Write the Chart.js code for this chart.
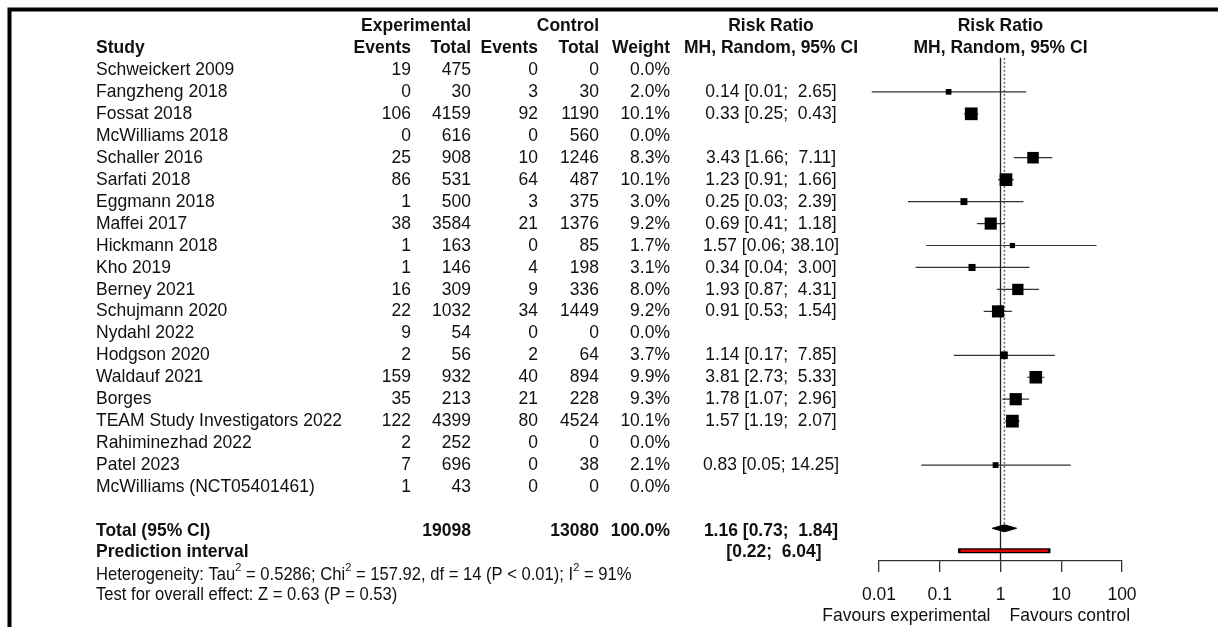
<!DOCTYPE html>
<html>
<head>
<meta charset="utf-8">
<script src="https://cdn.jsdelivr.net/npm/chart.js@4.4.0/dist/chart.umd.min.js"></script>
<style>
  body { margin: 0; background: #fff; }
  #wrap { width: 1218px; height: 627px; }
</style>
</head>
<body>
<div id="wrap"><canvas id="forest" width="1218" height="627"></canvas></div>
<script>
const studies = ['Schweickert 2009', 'Fangzheng 2018', 'Fossat 2018', 'McWilliams 2018', 'Schaller 2016',
  'Sarfati 2018', 'Eggmann 2018', 'Maffei 2017', 'Hickmann 2018', 'Kho 2019', 'Berney 2021',
  'Schujmann 2020', 'Nydahl 2022', 'Hodgson 2020', 'Waldauf 2021', 'Borges',
  'TEAM Study Investigators 2022', 'Rahiminezhad 2022', 'Patel 2023', 'McWilliams (NCT05401461)'];
const expEvents = [19, 0, 106, 0, 25, 86, 1, 38, 1, 1, 16, 22, 9, 2, 159, 35, 122, 2, 7, 1];
const expTotal = [475, 30, 4159, 616, 908, 531, 500, 3584, 163, 146, 309, 1032, 54, 56, 932, 213, 4399, 252, 696, 43];
const ctrlEvents = [0, 3, 92, 0, 10, 64, 3, 21, 0, 4, 9, 34, 0, 2, 40, 21, 80, 0, 0, 0];
const ctrlTotal = [0, 30, 1190, 560, 1246, 487, 375, 1376, 85, 198, 336, 1449, 0, 64, 894, 228, 4524, 0, 38, 0];
const weights = [0.0, 2.0, 10.1, 0.0, 8.3, 10.1, 3.0, 9.2, 1.7, 3.1, 8.0, 9.2, 0.0, 3.7, 9.9, 9.3, 10.1, 0.0, 2.1, 0.0];
const riskRatio = [null, 0.14, 0.33, null, 3.43, 1.23, 0.25, 0.69, 1.57, 0.34, 1.93, 0.91, null, 1.14, 3.81, 1.78, 1.57, null, 0.83, null];
const ciLower = [null, 0.0076, 0.25, null, 1.66, 0.91, 0.03, 0.41, 0.06, 0.04, 0.87, 0.53, null, 0.17, 2.73, 1.07, 1.19, null, 0.05, null];
const ciUpper = [null, 2.65, 0.43, null, 7.11, 1.66, 2.39, 1.18, 38.10, 3.00, 4.31, 1.54, null, 7.85, 5.33, 2.96, 2.07, null, 14.25, null];

const totalExp = 19098;
const totalCtrl = 13080;
const pooled = [1.16, 0.73, 1.84];     // estimate, lower, upper
const predInterval = [0.22, 6.04];
const tickValues = [0.01, 0.1, 1, 10, 100];
const tickLabels = ['0.01', '0.1', '1', '10', '100'];

// row layout (y scale units = rows)
const TOTAL_ROW = 21, PRED_ROW = 22, AXIS_ROW = 22.37, TOP_ROW = -2.5;
const STRETCH = 1.06;
const FONT = '"Liberation Sans", Arial, sans-serif';

function fmtCI(est, lo, hi) {
  const hiTxt = hi.toFixed(2);
  return est.toFixed(2) + ' [' + lo.toFixed(2) + '; ' + (hiTxt.length < 5 ? ' ' : '') + hiTxt + ']';
}

function put(ctx, str, px, py, align, size, bold) {
  ctx.save();
  ctx.font = (bold ? 'bold ' : '') + size + 'px ' + FONT;
  ctx.textAlign = align;
  ctx.textBaseline = 'middle';
  ctx.fillStyle = '#111';
  ctx.translate(px, py);
  ctx.scale(1, STRETCH);
  ctx.fillText(str, 0, 0);
  ctx.restore();
}

// line pieces for the confidence intervals, split by gaps
const ciData = [];
studies.forEach((s, i) => {
  if (riskRatio[i] == null) return;
  ciData.push({ x: ciLower[i], y: i }, { x: ciUpper[i], y: i }, { x: NaN, y: NaN });
});
const squareData = [], squareSize = [];
studies.forEach((s, i) => {
  if (riskRatio[i] == null) return;
  squareData.push({ x: riskRatio[i], y: i });
  squareSize.push(4 * Math.sqrt(weights[i]) / Math.SQRT2);
});
const dRow = TOTAL_ROW - 0.12;
const diamondData = [
  { x: pooled[1], y: dRow }, { x: pooled[0], y: dRow - 0.16 },
  { x: pooled[2], y: dRow }, { x: pooled[0], y: dRow + 0.16 }, { x: pooled[1], y: dRow }
];

const tablePlugin = {
  id: 'forestTable',
  beforeDraw(chart) {
    const ctx = chart.ctx;
    ctx.save();
    ctx.fillStyle = '#fff';
    ctx.fillRect(0, 0, chart.width, chart.height);
    ctx.strokeStyle = '#000';
    ctx.lineWidth = 4;
    ctx.beginPath();
    ctx.moveTo(9.5, chart.height);
    ctx.lineTo(9.5, 9.5);
    ctx.lineTo(chart.width, 9.5);
    ctx.stroke();
    ctx.restore();
  },
  afterDraw(chart) {
    const ctx = chart.ctx;
    const ys = chart.scales.y, xs = chart.scales.x;
    const row = r => ys.getPixelForValue(r);
    const fs = 17.5;

    // headers
    put(ctx, 'Experimental', 471, row(-2), 'right', fs, true);
    put(ctx, 'Control', 599, row(-2), 'right', fs, true);
    put(ctx, 'Risk Ratio', 771, row(-2), 'center', fs, true);
    put(ctx, 'Risk Ratio', xs.getPixelForValue(1), row(-2), 'center', fs, true);
    put(ctx, 'Study', 96, row(-1), 'left', fs, true);
    put(ctx, 'Events', 411, row(-1), 'right', fs, true);
    put(ctx, 'Total', 471, row(-1), 'right', fs, true);
    put(ctx, 'Events', 538, row(-1), 'right', fs, true);
    put(ctx, 'Total', 599, row(-1), 'right', fs, true);
    put(ctx, 'Weight', 670, row(-1), 'right', fs, true);
    put(ctx, 'MH, Random, 95% CI', 771, row(-1), 'center', fs, true);
    put(ctx, 'MH, Random, 95% CI', xs.getPixelForValue(1), row(-1), 'center', fs, true);

    // study rows
    studies.forEach((s, i) => {
      const y = row(i);
      put(ctx, s, 96, y, 'left', fs);
      put(ctx, String(expEvents[i]), 411, y, 'right', fs);
      put(ctx, String(expTotal[i]), 471, y, 'right', fs);
      put(ctx, String(ctrlEvents[i]), 538, y, 'right', fs);
      put(ctx, String(ctrlTotal[i]), 599, y, 'right', fs);
      put(ctx, weights[i].toFixed(1) + '%', 670, y, 'right', fs);
      if (riskRatio[i] != null) {
        put(ctx, fmtCI(riskRatio[i], ciLower[i], ciUpper[i]), 771, y, 'center', fs);
      }
    });

    // totals
    const yt = row(TOTAL_ROW);
    put(ctx, 'Total (95% CI)', 96, yt, 'left', fs, true);
    put(ctx, String(totalExp), 471, yt, 'right', fs, true);
    put(ctx, String(totalCtrl), 599, yt, 'right', fs, true);
    put(ctx, '100.0%', 670, yt, 'right', fs, true);
    put(ctx, fmtCI(pooled[0], pooled[1], pooled[2]), 771, yt, 'center', fs, true);
    const yp = row(PRED_ROW) - 1;
    put(ctx, 'Prediction interval', 96, yp, 'left', fs, true);
    put(ctx, '[' + predInterval[0].toFixed(2) + ';  ' + predInterval[1].toFixed(2) + ']', 774, yp, 'center', fs, true);

    // heterogeneity lines with superscripts
    const hs = 16.6, sup = 11;
    const yh = row(23);
    const parts = [['Heterogeneity: Tau', 0], ['2', 1], [' = 0.5286; Chi', 0], ['2', 1],
      [' = 157.92, df = 14 (P < 0.01); I', 0], ['2', 1], [' = 91%', 0]];
    let px = 96;
    parts.forEach(([t, isSup]) => {
      const size = isSup ? sup : hs;
      put(ctx, t, px, isSup ? yh - 7 : yh, 'left', size);
      ctx.font = size + 'px ' + FONT;
      px += ctx.measureText(t).width;
    });
    put(ctx, 'Test for overall effect: Z = 0.63 (P = 0.53)', 96, row(23.92), 'left', hs);

    // favours labels
    const x1 = xs.getPixelForValue(1);
    put(ctx, 'Favours experimental', x1 - 10, row(24.87), 'right', fs);
    put(ctx, 'Favours control', x1 + 9, row(24.87), 'left', fs);
  }
};

new Chart(document.getElementById('forest'), {
  type: 'scatter',
  data: {
    datasets: [
      {
        label: 'studies',
        data: squareData,
        pointStyle: 'rect',
        pointRadius: squareSize,
        pointHoverRadius: squareSize,
        backgroundColor: '#000',
        borderColor: '#000',
        borderWidth: 0,
        clip: false
      },
      {
        label: 'pooled',
        data: diamondData,
        showLine: true,
        fill: 'shape',
        backgroundColor: '#000',
        borderColor: '#000',
        borderWidth: 1,
        pointRadius: 0,
        tension: 0,
        clip: false
      },
      {
        label: 'prediction',
        data: predInterval.map(v => ({ x: v, y: PRED_ROW - 0.1 })),
        showLine: true,
        borderColor: '#e00000',
        borderWidth: 2.5,
        borderCapStyle: 'butt',
        pointRadius: 0,
        clip: false
      },
      {
        label: 'prediction outline',
        data: predInterval.map(v => ({ x: v, y: PRED_ROW - 0.1 })),
        showLine: true,
        borderColor: '#000',
        borderWidth: 5,
        borderCapStyle: 'square',
        pointRadius: 0,
        clip: false
      },
      {
        label: 'ci',
        data: ciData,
        showLine: true,
        spanGaps: false,
        borderColor: '#333',
        borderWidth: 1.2,
        pointRadius: 0,
        clip: false
      },
      {
        label: 'summary line',
        data: [{ x: pooled[0], y: -0.55 }, { x: pooled[0], y: dRow - 0.16 }],
        showLine: true,
        borderColor: '#666',
        borderWidth: 1.5,
        borderDash: [2, 2],
        pointRadius: 0,
        clip: false
      },
      {
        label: 'no effect',
        data: [{ x: 1, y: -0.55 }, { x: 1, y: AXIS_ROW }],
        showLine: true,
        borderColor: '#222',
        borderWidth: 1.3,
        pointRadius: 0,
        clip: false
      }
    ]
  },
  options: {
    responsive: false,
    animation: false,
    events: [],
    layout: { padding: { left: 879, right: 96, top: 15, bottom: 26 } },
    plugins: { legend: { display: false }, tooltip: { enabled: false } },
    scales: {
      x: {
        type: 'logarithmic',
        position: 'bottom',
        min: 0.01,
        max: 100,
        border: { display: true, color: '#333', width: 1.3 },
        grid: { drawOnChartArea: false, drawTicks: true, tickLength: 11, color: '#333', lineWidth: 1.3 },
        ticks: {
          autoSkip: false,
          maxRotation: 0,
          padding: 13,
          color: '#111',
          font: { family: FONT, size: 17.5 },
          callback: (v) => {
            const k = tickValues.indexOf(v);
            return k >= 0 ? tickLabels[k] : '';
          }
        },
        afterBuildTicks: scale => { scale.ticks = tickValues.map(v => ({ value: v })); },
        afterFit: scale => { scale.height = 40; }
      },
      y: {
        type: 'linear',
        reverse: true,
        min: TOP_ROW,
        max: AXIS_ROW,
        display: false
      }
    }
  },
  plugins: [tablePlugin]
});
</script>
</body>
</html>
